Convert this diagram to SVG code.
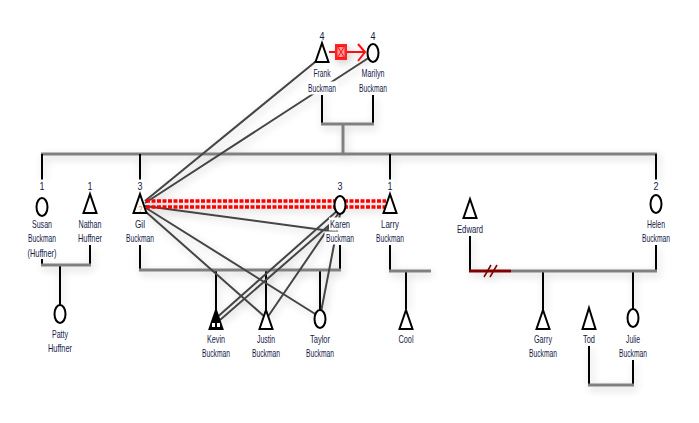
<svg xmlns="http://www.w3.org/2000/svg" width="699" height="423" viewBox="0 0 699 423">
<style>
.fam{stroke:#808080;stroke-width:3;fill:none}
.ch{stroke:#000;stroke-width:2;fill:none}
.emo{stroke:#454545;stroke-width:2;fill:none}
.hos{stroke:#ff0000;stroke-width:3.5;stroke-dasharray:4 1.5;fill:none}
.sym{fill:#fff;stroke:#000;stroke-width:2}
.lb{fill:#fff}
text{font-family:"Liberation Sans",Arial,sans-serif;font-size:11px;fill:#141a48;text-anchor:middle}
</style>
<defs>
<filter id="sh" x="-10%" y="-10%" width="120%" height="120%">
<feGaussianBlur in="SourceAlpha" stdDeviation="4"/>
<feOffset dx="2" dy="3" result="b"/>
<feComponentTransfer><feFuncA type="linear" slope="0.22"/></feComponentTransfer>
<feMerge><feMergeNode/><feMergeNode in="SourceGraphic"/></feMerge>
</filter>
</defs>
<rect width="699" height="423" fill="#fff"/>
<g id="connectors" filter="url(#sh)">
<path class="ch" d="M322,95V124M373,95V124"/>
<path class="fam" d="M321,124H374M343,124V154M41,154H657"/>
<path class="ch" d="M42,154V180M140,154V180M390,154V180M656,154V180"/>
<path class="ch" d="M42,259V265M90,245V265M60,265V305"/>
<path class="fam" d="M41,265H91"/>
<path class="ch" d="M140,245V270M340,245V270M216,270V310M266,270V310M320,270V310"/>
<path class="fam" d="M139,270H341"/>
<path class="ch" d="M390,245V271M406,271V309"/>
<path class="fam" d="M389,271H431"/>
<path class="ch" d="M470,236V271M656,245V271M543,271V310M633,271V309M589,346V385M633,360V385"/>
<path class="fam" d="M511,271H657M588,385H634"/>
<path d="M469,271H511" stroke="#800000" stroke-width="3" fill="none"/>
<path d="M484,277L491,265M490,277L497,265" stroke="#800000" stroke-width="1.5" fill="none"/>
<path class="emo" d="M145,201L320,58M145,203L370,57M145,206L338,232M146,208L320,317M146,212L265,317M337,211L214,320M335,220L220,320M338,214L267,318M340,214L321,312"/>
<path class="hos" d="M146,201H386M146,207H386"/>
<path d="M329,52H365" stroke="#ff1010" stroke-width="2"/>
<rect x="335" y="44" width="12" height="16" fill="#ff2020"/>
<rect x="337.5" y="46.5" width="7" height="11" fill="#ff9a9a"/>
<path d="M337.5,46.5L344.5,57.5H337.5L344.5,46.5Z" fill="none" stroke="#ff1010" stroke-width="1"/>
<path d="M358,44L365,52L358,61" stroke="#ff1010" stroke-width="2" fill="none"/>
</g>
<g id="frank">
<rect class="lb" x="318" y="29.5" width="8" height="13"/><text x="322" y="40" textLength="5" lengthAdjust="spacingAndGlyphs">4</text>
<polygon class="sym" points="322,43 328.5,62 315.5,62"/>
<rect class="lb" x="312.5" y="66.5" width="19" height="13"/><text x="322" y="77" textLength="17" lengthAdjust="spacingAndGlyphs">Frank</text>
<rect class="lb" x="306.5" y="81.5" width="31" height="13"/><text x="322" y="92" textLength="28" lengthAdjust="spacingAndGlyphs">Buckman</text>
</g>
<g id="marilyn">
<rect class="lb" x="369" y="29.5" width="8" height="13"/><text x="373" y="40" textLength="5" lengthAdjust="spacingAndGlyphs">4</text>
<ellipse class="sym" cx="373" cy="53" rx="5.5" ry="9"/>
<rect class="lb" x="360.5" y="66.5" width="25" height="13"/><text x="373" y="77" textLength="23" lengthAdjust="spacingAndGlyphs">Marilyn</text>
<rect class="lb" x="357.5" y="81.5" width="31" height="13"/><text x="373" y="92" textLength="28" lengthAdjust="spacingAndGlyphs">Buckman</text>
</g>
<g id="susan">
<rect class="lb" x="38" y="179.5" width="8" height="13"/><text x="42" y="190" textLength="5" lengthAdjust="spacingAndGlyphs">1</text>
<ellipse class="sym" cx="42" cy="207" rx="5.5" ry="9"/>
<rect class="lb" x="31" y="217.5" width="22" height="13"/><text x="42" y="228" textLength="20" lengthAdjust="spacingAndGlyphs">Susan</text>
<rect class="lb" x="26.5" y="231.5" width="31" height="13"/><text x="42" y="242" textLength="28" lengthAdjust="spacingAndGlyphs">Buckman</text>
<rect class="lb" x="26" y="246" width="32" height="13"/><text x="42" y="256.5" textLength="29" lengthAdjust="spacingAndGlyphs">(Huffner)</text>
</g>
<g id="nathan">
<rect class="lb" x="86" y="179.5" width="8" height="13"/><text x="90" y="190" textLength="5" lengthAdjust="spacingAndGlyphs">1</text>
<polygon class="sym" points="90,194 96.5,213 83.5,213"/>
<rect class="lb" x="77.5" y="217.5" width="25" height="13"/><text x="90" y="228" textLength="23" lengthAdjust="spacingAndGlyphs">Nathan</text>
<rect class="lb" x="77" y="231.5" width="26" height="13"/><text x="90" y="242" textLength="24" lengthAdjust="spacingAndGlyphs">Huffner</text>
</g>
<g id="gil">
<rect class="lb" x="136" y="179.5" width="8" height="13"/><text x="140" y="190" textLength="5" lengthAdjust="spacingAndGlyphs">3</text>
<polygon class="sym" points="140,194 146.5,213 133.5,213"/>
<text x="140.5" y="211.5" style="font-size:9px;fill:#d08020" textLength="4" lengthAdjust="spacingAndGlyphs">?</text>
<rect class="lb" x="134" y="217.5" width="12" height="13"/><text x="140" y="228" textLength="10" lengthAdjust="spacingAndGlyphs">Gil</text>
<rect class="lb" x="124.5" y="231.5" width="31" height="13"/><text x="140" y="242" textLength="28" lengthAdjust="spacingAndGlyphs">Buckman</text>
</g>
<g id="karen">
<rect class="lb" x="336" y="179.5" width="8" height="13"/><text x="340" y="190" textLength="5" lengthAdjust="spacingAndGlyphs">3</text>
<ellipse class="sym" cx="340" cy="205" rx="5.5" ry="9"/>
<rect class="lb" x="329" y="217.5" width="22" height="13"/><text x="340" y="228" textLength="20" lengthAdjust="spacingAndGlyphs">Karen</text>
<rect class="lb" x="324.5" y="231.5" width="31" height="13"/><text x="340" y="242" textLength="28" lengthAdjust="spacingAndGlyphs">Buckman</text>
</g>
<g id="larry">
<rect class="lb" x="386" y="179.5" width="8" height="13"/><text x="390" y="190" textLength="5" lengthAdjust="spacingAndGlyphs">1</text>
<polygon class="sym" points="390,194 396.5,213 383.5,213"/>
<rect class="lb" x="380" y="217.5" width="20" height="13"/><text x="390" y="228" textLength="18" lengthAdjust="spacingAndGlyphs">Larry</text>
<rect class="lb" x="374.5" y="231.5" width="31" height="13"/><text x="390" y="242" textLength="28" lengthAdjust="spacingAndGlyphs">Buckman</text>
</g>
<g id="edward">
<polygon class="sym" points="470,199 476.5,218 463.5,218"/>
<rect class="lb" x="456" y="222.5" width="28" height="13"/><text x="470" y="233" textLength="26" lengthAdjust="spacingAndGlyphs">Edward</text>
</g>
<g id="helen">
<rect class="lb" x="652" y="179.5" width="8" height="13"/><text x="656" y="190" textLength="5" lengthAdjust="spacingAndGlyphs">2</text>
<ellipse class="sym" cx="656" cy="204" rx="5.5" ry="9"/>
<rect class="lb" x="646" y="217.5" width="20" height="13"/><text x="656" y="228" textLength="18" lengthAdjust="spacingAndGlyphs">Helen</text>
<rect class="lb" x="640.5" y="231.5" width="31" height="13"/><text x="656" y="242" textLength="28" lengthAdjust="spacingAndGlyphs">Buckman</text>
</g>
<g id="patty">
<ellipse class="sym" cx="60" cy="314" rx="5.5" ry="9"/>
<rect class="lb" x="51" y="327.5" width="18" height="13"/><text x="60" y="338" textLength="16" lengthAdjust="spacingAndGlyphs">Patty</text>
<rect class="lb" x="47" y="341.5" width="26" height="13"/><text x="60" y="352" textLength="24" lengthAdjust="spacingAndGlyphs">Huffner</text>
</g>
<g id="kevin">
<polygon class="sym" points="216,310 222.5,329 209.5,329" style="fill:#000"/>
<rect x="212" y="323" width="3" height="4" fill="#fff"/><rect x="217" y="323" width="3" height="4" fill="#fff"/>
<rect class="lb" x="206" y="332.5" width="20" height="13"/><text x="216" y="343" textLength="18" lengthAdjust="spacingAndGlyphs">Kevin</text>
<rect class="lb" x="200.5" y="346.5" width="31" height="13"/><text x="216" y="357" textLength="28" lengthAdjust="spacingAndGlyphs">Buckman</text>
</g>
<g id="justin">
<polygon class="sym" points="266,310 272.5,329 259.5,329"/>
<rect class="lb" x="256" y="332.5" width="20" height="13"/><text x="266" y="343" textLength="18" lengthAdjust="spacingAndGlyphs">Justin</text>
<rect class="lb" x="250.5" y="346.5" width="31" height="13"/><text x="266" y="357" textLength="28" lengthAdjust="spacingAndGlyphs">Buckman</text>
</g>
<g id="taylor">
<ellipse class="sym" cx="320" cy="319" rx="5.5" ry="9"/>
<rect class="lb" x="309" y="332.5" width="22" height="13"/><text x="320" y="343" textLength="20" lengthAdjust="spacingAndGlyphs">Taylor</text>
<rect class="lb" x="304.5" y="346.5" width="31" height="13"/><text x="320" y="357" textLength="28" lengthAdjust="spacingAndGlyphs">Buckman</text>
</g>
<g id="cool">
<polygon class="sym" points="406,310 412.5,329 399.5,329"/>
<rect class="lb" x="397" y="332.5" width="18" height="13"/><text x="406" y="343" textLength="15" lengthAdjust="spacingAndGlyphs">Cool</text>
</g>
<g id="garry">
<polygon class="sym" points="543,310 549.5,329 536.5,329"/>
<rect class="lb" x="533" y="332.5" width="20" height="13"/><text x="543" y="343" textLength="18" lengthAdjust="spacingAndGlyphs">Garry</text>
<rect class="lb" x="527.5" y="346.5" width="31" height="13"/><text x="543" y="357" textLength="28" lengthAdjust="spacingAndGlyphs">Buckman</text>
</g>
<g id="tod">
<polygon class="sym" points="589,308 595.5,329 582.5,329"/>
<rect class="lb" x="582" y="332.5" width="14" height="13"/><text x="589" y="343" textLength="12" lengthAdjust="spacingAndGlyphs">Tod</text>
</g>
<g id="julie">
<ellipse class="sym" cx="633" cy="318" rx="5.5" ry="9"/>
<rect class="lb" x="625" y="332.5" width="16" height="13"/><text x="633" y="343" textLength="14" lengthAdjust="spacingAndGlyphs">Julie</text>
<rect class="lb" x="617.5" y="346.5" width="31" height="13"/><text x="633" y="357" textLength="28" lengthAdjust="spacingAndGlyphs">Buckman</text>
</g>
</svg>
